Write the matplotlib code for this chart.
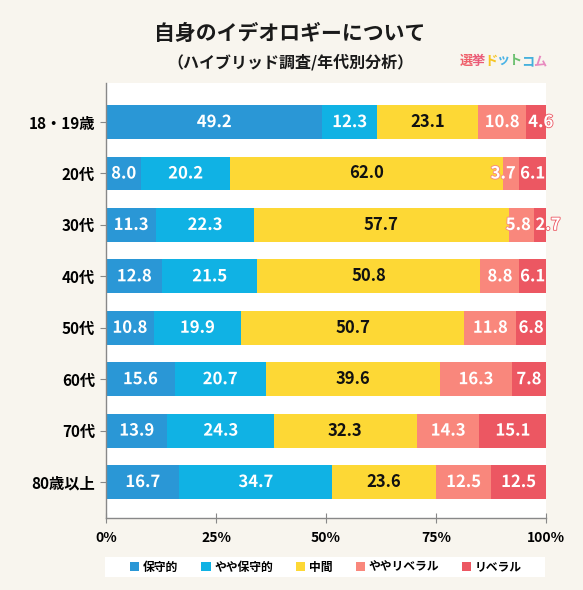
import numpy as np
import matplotlib.pyplot as plt
import matplotlib.patheffects as pe
from matplotlib.patches import Rectangle

plt.rcParams['font.family'] = ['Noto Sans CJK JP', 'DejaVu Sans']

# age groups (top to bottom)
ages = ['18・19歳', '20代', '30代', '40代', '50代', '60代', '70代', '80歳以上']
categories = ['保守的', 'やや保守的', '中間', 'ややリベラル', 'リベラル']

conservative = [49.2, 8.0, 11.3, 12.8, 10.8, 15.6, 13.9, 16.7]
somewhat_cons = [12.3, 20.2, 22.3, 21.5, 19.9, 20.7, 24.3, 34.7]
middle = [23.1, 62.0, 57.7, 50.8, 50.7, 39.6, 32.3, 23.6]
somewhat_lib = [10.8, 3.7, 5.8, 8.8, 11.8, 16.3, 14.3, 12.5]
liberal = [4.6, 6.1, 2.7, 6.1, 6.8, 7.8, 15.1, 12.5]

colors = ['#2a97d6', '#10b2e4', '#fdd835', '#f9877c', '#ec5762']
text_colors = ['white', 'white', '#111111', 'white', 'white']

# small label shifts (in %) so narrow segments don't collide
nudge = {(0, 4): 1.1, (1, 3): -1.8, (2, 3): -0.7, (2, 4): 1.8}

bg = '#f8f5ee'

fig = plt.figure(figsize=(5.83, 5.90), dpi=100, facecolor=bg)
ax = fig.add_axes([106/583, 1-518/590, 440/583, 435/590])
ax.set_facecolor('white')

series = np.array([conservative, somewhat_cons, middle, somewhat_lib, liberal])
totals = series.sum(axis=0)
shares = series / totals * 100
y = np.arange(len(ages))
left = np.zeros(len(ages))

for i in range(len(categories)):
    ax.barh(y, shares[i], left=left, height=0.66, color=colors[i],
            label=categories[i], edgecolor='none')
    for j in range(len(ages)):
        cx = left[j] + shares[i][j] / 2 + nudge.get((j, i), 0)
        t = ax.text(cx, y[j], '%.1f' % series[i][j], ha='center', va='center',
                    color=text_colors[i], fontsize=12, fontweight='bold')
        if text_colors[i] == 'white':
            t.set_path_effects([pe.withStroke(linewidth=1.2, foreground=colors[i])])
    left = left + shares[i]

ax.set_xlim(0, 100)
ax.set_ylim(7.7, -0.76)
ax.set_yticks(y)
ax.set_yticklabels(ages, fontsize=11, fontweight='bold')
ax.set_xticks([0, 25, 50, 75, 100])
ax.set_xticklabels(['0%', '25%', '50%', '75%', '100%'], fontsize=10, fontweight='bold')
ax.tick_params(axis='y', length=4, color='#888888', pad=4)
ax.tick_params(axis='x', direction='inout', length=7, color='#888888', pad=6)
for s in ['top', 'right']:
    ax.spines[s].set_visible(False)
for s in ['left', 'bottom']:
    ax.spines[s].set_color('#888888')
    ax.spines[s].set_linewidth(1.0)

# white band behind the legend
fig.patches.append(Rectangle((105/583, 1-577/590), 440/583, 20/590,
                             transform=fig.transFigure, facecolor='white',
                             edgecolor='none', zorder=0))
leg = fig.legend(loc='center', bbox_to_anchor=(326/583, 1-567/590), ncol=5,
                 frameon=False, handlelength=0.8, handleheight=0.8,
                 handletextpad=0.3, columnspacing=1.95, borderpad=0.3,
                 prop={'weight': 'bold', 'size': 8.5})

fig.text(290/583, 1-33/590, '自身のイデオロギーについて', ha='center', va='center',
         fontsize=15, fontweight='bold', color='#1a1a1a')
fig.text(290/583, 1-62/590, '（ハイブリッド調査/年代別分析）', ha='center', va='center',
         fontsize=11.5, fontweight='bold', color='#1a1a1a')

logo = ['選', '挙', 'ド', 'ッ', 'ト', 'コ', 'ム']
logo_colors = ['#ef5f6a', '#ea5a78', '#f6c523', '#4ab3e6', '#6cc070', '#44b0dc', '#e88abf']
x0 = 460
for k, ch in enumerate(logo):
    fig.text((x0 + k*12.2)/583, 1-61/590, ch, ha='left', va='center', fontsize=9.5,
             fontweight='bold', color=logo_colors[k])

fig.savefig('out.png', dpi=100, facecolor=bg)
